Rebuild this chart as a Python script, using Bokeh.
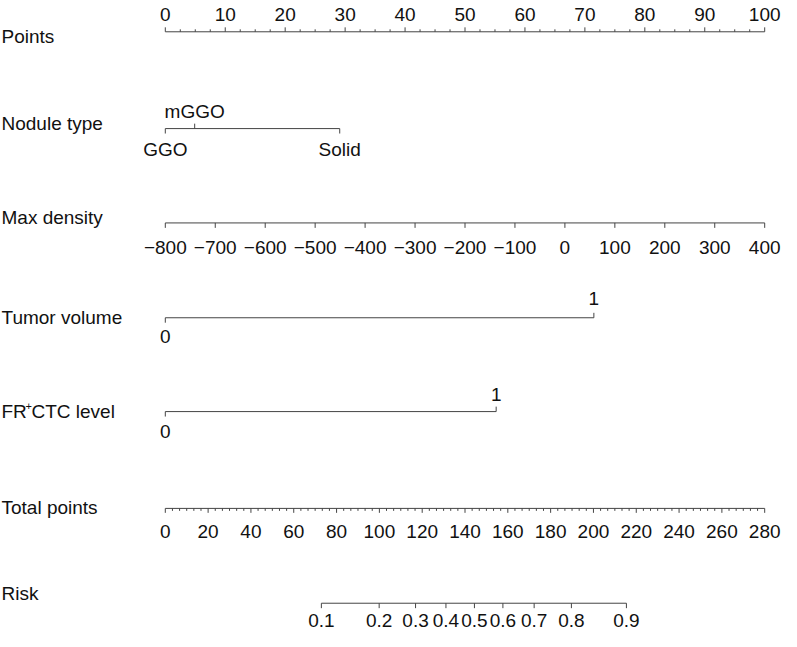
from bokeh.plotting import figure
from bokeh.models import Range1d
from bokeh.core.properties import value
from bokeh.embed import file_html
from bokeh.resources import INLINE

# ---------------- data ----------------
points_major = [0, 10, 20, 30, 40, 50, 60, 70, 80, 90, 100]
points_minor_step = 2.5
points_max = 100

nodule_levels = ["GGO", "mGGO", "Solid"]
nodule_points = [0, 4.9, 29.1]
nodule_label_above = [False, True, False]

density_ticks = [-800, -700, -600, -500, -400, -300, -200, -100, 0, 100, 200, 300, 400]
density_labels = ["\u2212800", "\u2212700", "\u2212600", "\u2212500", "\u2212400", "\u2212300",
                  "\u2212200", "\u2212100", "0", "100", "200", "300", "400"]

tumor_levels = ["0", "1"]
tumor_points = [0, 71.5]

fr_levels = ["0", "1"]
fr_points = [0, 55.2]

total_major = [0, 20, 40, 60, 80, 100, 120, 140, 160, 180, 200, 220, 240, 260, 280]
total_minor_per_major = 6
total_max = 280

risk_ticks = [0.1, 0.2, 0.3, 0.4, 0.5, 0.6, 0.7, 0.8, 0.9]
risk_total_points = [72.9, 99.9, 116.9, 131.1, 144.4, 157.7, 172.3, 189.7, 215.4]

row_labels = ["Points", "Nodule type", "Max density", "Tumor volume", None, "Total points", "Risk"]

# ---------------- layout ----------------
W, H = 781, 631
SX = 0.981                      # horizontal fit factor
X0 = 168 * SX                   # screen px of 0 points
SCALE = 6.11 * SX               # px per point
FONT = value("Liberation Sans")
FS = value("19px")
LINE = "#444444"
TXT = "#111111"


def Y(img_y):
    return img_y * 0.9878 - 0.82


p = figure(width=W, height=H, output_backend="svg", toolbar_location=None,
           x_range=Range1d(-X0 / SCALE, (W - X0) / SCALE), y_range=Range1d(H, 0),
           min_border=0, outline_line_color=None)
p.xaxis.visible = False
p.yaxis.visible = False
p.xgrid.visible = False
p.ygrid.visible = False
p.background_fill_color = "white"


def hline(x0, x1, y):
    p.segment(x0=[x0], y0=[Y(y)], x1=[x1], y1=[Y(y)], line_color=LINE, line_width=1)


def ticks(xs, y0, y1):
    p.segment(x0=xs, y0=[Y(y0)] * len(xs), x1=xs, y1=[Y(y1)] * len(xs), line_color=LINE, line_width=1)


def labels(xs, y, texts, align="center", size=FS, x_offset=0):
    p.text(x=xs, y=[Y(y)] * len(xs), text=texts, text_font=FONT, text_font_size=size,
           text_align=align, text_baseline="middle", text_color=TXT, x_offset=x_offset)


# --- row labels on the left ---
row_mid = [37.5, 125.5, 220.5, 322, 417, 514, 601]
xs_left = -X0 / SCALE
for lab, ym in zip(row_labels, row_mid):
    if lab is not None:
        labels([xs_left], ym, [lab], align="left", x_offset=1)
# FR+CTC level with superscript plus
labels([xs_left], row_mid[4], ["FR"], align="left", x_offset=1)
labels([xs_left], row_mid[4] - 6, ["+"], align="left", size=value("11px"), x_offset=25)
labels([xs_left], row_mid[4], ["CTC level"], align="left", x_offset=31)

# --- Points axis ---
yP = 32.5
hline(0, points_max, yP)
n_minor = int(points_max / points_minor_step)
minor = [i * points_minor_step for i in range(n_minor + 1)]
minor = [m for m in minor if m not in points_major]
ticks(minor, yP, yP - 2.5)
ticks(points_major, yP, yP - 4.5)
labels(points_major, 14.5, [str(v) for v in points_major])

# --- Nodule type ---
yN = 130.5
hline(min(nodule_points), max(nodule_points), yN)
for pt, lab, above in zip(nodule_points, nodule_levels, nodule_label_above):
    if above:
        ticks([pt], yN, yN - 5)
        labels([pt], 113.5, [lab])
    else:
        ticks([pt], yN, yN + 5)
        labels([pt], 151.5, [lab])

# --- Max density (linear, -800 -> 0 pts, 400 -> 100 pts) ---
yD = 226
dmin, dmax = min(density_ticks), max(density_ticks)
dpts = [(d - dmin) / (dmax - dmin) * points_max for d in density_ticks]
hline(dpts[0], dpts[-1], yD)
ticks(dpts, yD, yD + 5)
labels(dpts, 251, density_labels)

# --- Tumor volume ---
yT = 322
hline(tumor_points[0], tumor_points[1], yT)
ticks([tumor_points[0]], yT, yT + 5)
ticks([tumor_points[1]], yT, yT - 5)
labels([tumor_points[0]], 341, [tumor_levels[0]])
labels([tumor_points[1]], 303, [tumor_levels[1]])

# --- FR+CTC level ---
yF = 417
hline(fr_points[0], fr_points[1], yF)
ticks([fr_points[0]], yF, yF + 5)
ticks([fr_points[1]], yF, yF - 5)
labels([fr_points[0]], 437, [fr_levels[0]])
labels([fr_points[1]], 400, [fr_levels[1]])

# --- Total points ---
yTP = 515
tp = lambda v: v / total_max * points_max
hline(tp(0), tp(total_max), yTP)
step = (total_major[1] - total_major[0]) / total_minor_per_major
tminor = []
for a in total_major[:-1]:
    for k in range(1, total_minor_per_major):
        tminor.append(tp(a + k * step))
ticks(tminor, yTP, yTP + 2.5)
ticks([tp(v) for v in total_major], yTP, yTP + 4.5)
labels([tp(v) for v in total_major], 538, [str(v) for v in total_major])

# --- Risk ---
yR = 611
rpts = [tp(v) for v in risk_total_points]
hline(rpts[0], rpts[-1], yR)
ticks(rpts, yR, yR + 5)
labels(rpts, 628, [f"{r:.1f}" for r in risk_ticks])

open("out.html", "w").write(file_html(p, INLINE))
